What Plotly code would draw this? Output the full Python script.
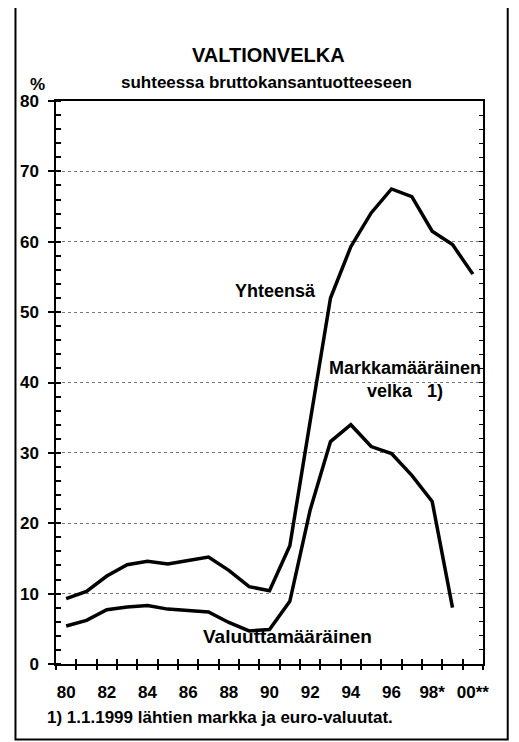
import plotly.graph_objects as go

# vuodet ja sarjat (% BKT:sta)
vuodet = list(range(1980, 2001))
yhteensa = [9.3, 10.3, 12.5, 14.1, 14.6, 14.2, 14.7, 15.2, 13.3, 11.0, 10.4,
            16.8, 34.5, 52.0, 59.3, 64.1, 67.5, 66.4, 61.5, 59.6, 55.4]
valuutta_vuodet = list(range(1980, 2000))
valuuttamaarainen = [5.4, 6.2, 7.7, 8.1, 8.3, 7.8, 7.6, 7.4, 5.9, 4.7, 4.9,
                     8.9, 21.9, 31.6, 34.0, 30.9, 29.9, 26.8, 23.1, 8.0]

tick_vuodet = [1980, 1982, 1984, 1986, 1988, 1990, 1992, 1994, 1996, 1998, 2000]
tick_tekstit = ["80", "82", "84", "86", "88", "90", "92", "94", "96", "98*", "00**"]

fontti = "Liberation Sans, Arial, Helvetica, sans-serif"
lihava = dict(family=fontti, color="black", weight="bold")

fig = go.Figure()
fig.add_trace(go.Scatter(x=vuodet, y=yhteensa, mode="lines",
                         line=dict(color="black", width=3.5), showlegend=False))
fig.add_trace(go.Scatter(x=valuutta_vuodet, y=valuuttamaarainen, mode="lines",
                         line=dict(color="black", width=3.5), showlegend=False))
# apuakselit tikkejä varten
for xa, ya in [("x2", "y"), ("x3", "y"), ("x", "y2")]:
    fig.add_trace(go.Scatter(x=[1990], y=[0], xaxis=xa, yaxis=ya, mode="markers",
                             marker=dict(opacity=0), hoverinfo="skip", showlegend=False))

# sivun body-marginaali (8px) huomioitu koossa ja marginaaleissa
xr = [1979.5, 2000.5]
fig.update_layout(
    width=511, height=734,
    margin=dict(l=43, r=36, t=93, b=77.5),
    paper_bgcolor="white", plot_bgcolor="white",
    xaxis=dict(range=xr, tickvals=tick_vuodet, ticktext=tick_tekstit, ticks="",
               showline=True, linecolor="black", linewidth=1.5, mirror=True,
               showgrid=False, zeroline=False, tickfont=dict(size=17, **lihava),
               ticklabelstandoff=12),
    xaxis2=dict(range=xr, overlaying="x", tickmode="linear", tick0=1979.5, dtick=1,
                ticks="outside", ticklen=5, tickwidth=1.5, tickcolor="black",
                showticklabels=False, showgrid=False, zeroline=False, showline=False),
    xaxis3=dict(range=xr, overlaying="x", tickmode="linear", tick0=1979.5, dtick=1,
                ticks="inside", ticklen=5, tickwidth=1.5, tickcolor="black",
                showticklabels=False, showgrid=False, zeroline=False, showline=False),
    yaxis=dict(range=[0, 80], dtick=10, ticks="outside", ticklen=6, tickwidth=1.5,
               tickcolor="black", showline=True, linecolor="black", linewidth=1.5,
               showgrid=True, gridcolor="#777", gridwidth=1, griddash="dot",
               zeroline=False, tickfont=dict(size=17, **lihava), ticklabelstandoff=6,
               minor=dict(dtick=2, ticks="inside", ticklen=5, tickcolor="black",
                          showgrid=False)),
    yaxis2=dict(range=[0, 80], overlaying="y", side="right", dtick=2, ticks="inside",
                ticklen=4, tickcolor="black", showticklabels=False, showgrid=False,
                zeroline=False, showline=True, linecolor="black", linewidth=1.5),
)

fig.add_annotation(text="VALTIONVELKA", xref="paper", yref="paper", x=0.4977, y=1.0825,
                   xanchor="center", yanchor="middle", showarrow=False,
                   font=dict(size=20, **lihava))
fig.add_annotation(text="suhteessa bruttokansantuotteeseen", xref="paper", yref="paper",
                   x=0.493, y=1.0328, xanchor="center", yanchor="middle", showarrow=False,
                   font=dict(size=17, **lihava))
fig.add_annotation(text="%", xref="paper", yref="paper", x=-0.044, y=1.03,
                   xanchor="center", yanchor="middle", showarrow=False,
                   font=dict(size=17, **lihava))
fig.add_annotation(text="Yhteensä", x=1990.28, y=53.0, xanchor="center", yanchor="middle",
                   showarrow=False, font=dict(size=18, **lihava))
fig.add_annotation(text="Markkamääräinen<br>velka   1)", x=1996.65, y=40.4,
                   xanchor="center", yanchor="middle", showarrow=False,
                   font=dict(size=18, **lihava))
fig.add_annotation(text="Valuuttamääräinen", x=1990.9, y=3.9, xanchor="center",
                   yanchor="middle", showarrow=False, font=dict(size=19, **lihava))
fig.add_annotation(text="1) 1.1.1999 lähtien markka ja euro-valuutat.", xref="paper",
                   yref="paper", x=-0.0255, y=-0.095, xanchor="left", yanchor="middle",
                   showarrow=False, font=dict(size=17, **lihava))

# kehys
fig.add_shape(type="rect", xref="paper", yref="paper", x0=-0.0949, x1=1.0579,
              y0=-0.134, y1=1.1704, line=dict(color="black", width=2))

fig.write_html("out.html")
